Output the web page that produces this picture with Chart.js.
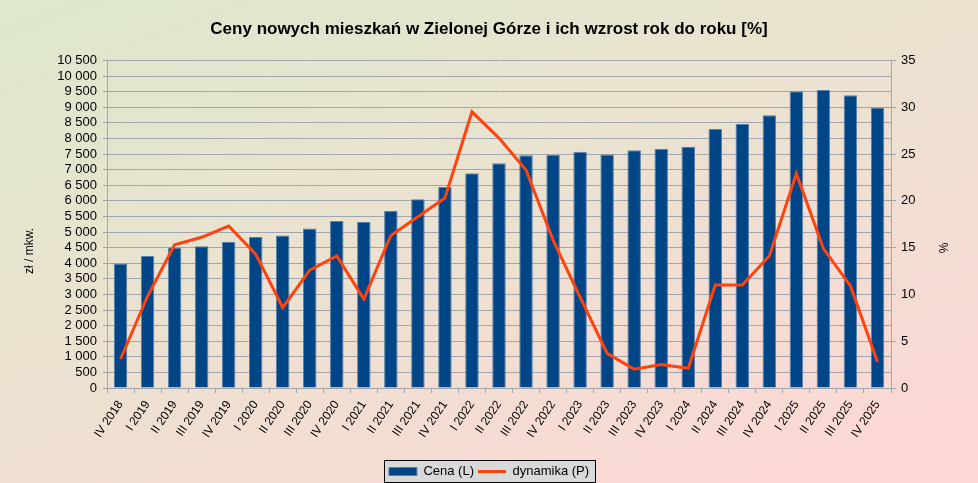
<!DOCTYPE html>
<html>
<head>
<meta charset="utf-8">
<script src="https://cdn.jsdelivr.net/npm/chart.js@4"></script>
<style>
  html, body { margin: 0; padding: 0; }
  body {
    width: 978px; height: 483px; overflow: hidden;
    background: linear-gradient(160deg, #dde8cc 0%, #ebe2d0 45%, #ffd6d6 100%);
  }
  #wrap { position: relative; width: 978px; height: 483px; }
</style>
</head>
<body>
<div id="wrap"><canvas id="priceChart"></canvas></div>
<script>
// quarters
const categories = [
    'IV 2018',
    'I 2019', 'II 2019', 'III 2019', 'IV 2019',
    'I 2020', 'II 2020', 'III 2020', 'IV 2020',
    'I 2021', 'II 2021', 'III 2021', 'IV 2021',
    'I 2022', 'II 2022', 'III 2022', 'IV 2022',
    'I 2023', 'II 2023', 'III 2023', 'IV 2023',
    'I 2024', 'II 2024', 'III 2024', 'IV 2024',
    'I 2025', 'II 2025', 'III 2025', 'IV 2025'
];

// zł / mkw. (left axis)
const prices = [
    3990,
    4230, 4500, 4540, 4690,
    4850, 4890, 5110, 5350,
    5320, 5680, 6050, 6440,
    6880, 7200, 7460, 7470,
    7570, 7480, 7620, 7670,
    7730, 8300, 8460, 8740,
    9510, 9550, 9380, 8990
];

// % y/y (right axis)
const growth = [
    3.1,
    9.8, 15.3, 16.1, 17.3,
    14.3, 8.6, 12.6, 14.1,
    9.5, 16.3, 18.3, 20.3,
    29.5, 26.7, 23.3, 15.8,
    9.7, 3.7, 2.0, 2.5,
    2.1, 11.0, 11.0, 14.1,
    22.9, 14.9, 10.9, 2.8
];

const leftTicks = { min: 0, max: 10500, step: 500 };
const rightTicks = { min: 0, max: 35, step: 5 };
const axisTitles = { left: 'zł / mkw.', right: '%' };

const gridColor = '#a3a5ad';
const fontFamily = '"Liberation Sans", Arial, sans-serif';

function spaced(v) {
    return String(v).replace(/\B(?=(\d{3})+(?!\d))/g, ' ');
}

// grey box behind the legend, like the office export
const legendBox = {
    id: 'legendBox',
    beforeDraw(chart) {
        const lg = chart.legend;
        if (!lg || !lg.legendHitBoxes || !lg.legendHitBoxes.length) return;
        const hb = lg.legendHitBoxes;
        const x0 = hb[0].left - 5;
        const x1 = hb[hb.length - 1].left + hb[hb.length - 1].width + 6;
        const y0 = hb[0].top - 5;
        const y1 = hb[0].top + hb[0].height + 4;
        const c = chart.ctx;
        c.save();
        c.fillStyle = '#d9d9d9';
        c.fillRect(x0, y0, x1 - x0, y1 - y0);
        c.strokeStyle = '#000';
        c.lineWidth = 1;
        c.strokeRect(Math.round(x0) + 0.5, Math.round(y0) + 0.5, Math.round(x1 - x0), Math.round(y1 - y0));
        c.restore();
    }
};

// axis titles sit a bit lower than the plot centre in the original
const sideTitles = {
    id: 'sideTitles',
    afterDraw(chart) {
        const c = chart.ctx;
        c.save();
        c.fillStyle = '#000';
        c.font = '12px ' + fontFamily;
        c.textAlign = 'center';
        c.textBaseline = 'middle';
        c.translate(30, 251);
        c.rotate(-Math.PI / 2);
        c.fillText(axisTitles.left, 0, 0);
        c.restore();
        c.save();
        c.fillStyle = '#000';
        c.font = '12px ' + fontFamily;
        c.textAlign = 'center';
        c.textBaseline = 'middle';
        c.translate(945, 248);
        c.rotate(-Math.PI / 2);
        c.fillText(axisTitles.right, 0, 0);
        c.restore();
    }
};

const ctx = document.getElementById('priceChart').getContext('2d');
new Chart(ctx, {
    data: {
        labels: categories,
        datasets: [
            {
                type: 'line',
                label: 'dynamika (P)',
                data: growth,
                yAxisID: 'yR',
                borderColor: '#ff420e',
                backgroundColor: '#ff420e',
                borderWidth: 3,
                pointRadius: 0,
                pointHoverRadius: 0,
                tension: 0,
                pointStyle: 'line',
                order: 1
            },
            {
                type: 'bar',
                label: 'Cena (L)',
                data: prices,
                yAxisID: 'yL',
                backgroundColor: '#004586',
                borderColor: '#5b80aa',
                borderWidth: 1,
                categoryPercentage: 1.0,
                barPercentage: 0.5,
                pointStyle: 'rect',
                order: 2
            }
        ]
    },
    options: {
        responsive: true,
        maintainAspectRatio: false,
        animation: false,
        layout: { padding: { left: 0, right: 0, top: 0, bottom: -5 } },
        plugins: {
            title: {
                display: true,
                text: 'Ceny nowych mieszkań w Zielonej Górze i ich wzrost rok do roku [%]',
                color: '#000',
                font: { family: fontFamily, size: 17, weight: 'bold' },
                padding: { top: 19, bottom: 21 }
            },
            legend: {
                position: 'bottom',
                reverse: true,
                labels: {
                    color: '#000',
                    font: { family: fontFamily, size: 13 },
                    usePointStyle: true,
                    pointStyleWidth: 28,
                    boxHeight: 8,
                    padding: 4
                }
            },
            tooltip: { enabled: false }
        },
        scales: {
            x: {
                offset: true,
                afterFit(scale) { scale.height = 73; },
                grid: {
                    offset: true,
                    drawOnChartArea: false,
                    drawTicks: true,
                    tickLength: 5,
                    color: gridColor
                },
                border: { color: gridColor },
                ticks: {
                    color: '#000',
                    font: { family: fontFamily, size: 12 },
                    maxRotation: 56,
                    minRotation: 56,
                    autoSkip: false,
                    padding: 5
                }
            },
            yL: {
                position: 'left',
                min: leftTicks.min,
                max: leftTicks.max,
                afterFit(scale) { scale.width = 107; },
                grid: { color: gridColor, tickLength: 4 },
                border: { color: gridColor },
                ticks: {
                    stepSize: leftTicks.step,
                    autoSkip: false,
                    color: '#000',
                    font: { family: fontFamily, size: 13 },
                    padding: 6,
                    callback: function(v) { return spaced(v); }
                }
            },
            yR: {
                position: 'right',
                min: rightTicks.min,
                max: rightTicks.max,
                afterFit(scale) { scale.width = 87; },
                grid: { drawOnChartArea: false, color: gridColor, tickLength: 5 },
                border: { color: gridColor },
                ticks: {
                    stepSize: rightTicks.step,
                    autoSkip: false,
                    color: '#000',
                    font: { family: fontFamily, size: 13 },
                    padding: 5
                }
            }
        }
    },
    plugins: [legendBox, sideTitles]
});
</script>
</body>
</html>
